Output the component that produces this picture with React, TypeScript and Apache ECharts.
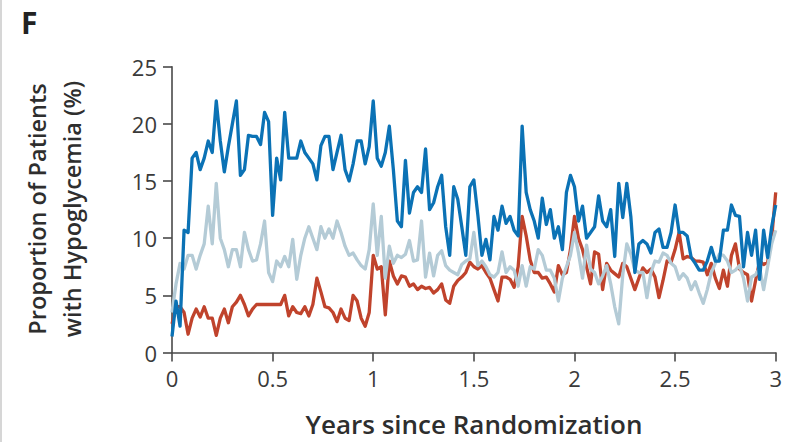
import React, { useEffect, useRef } from "react";
import * as echarts from "echarts";

// x positions: weekly-ish sampling, 0.02 years apart (0 .. 3 years)
const STEP = 0.02;
const N_POINTS = 151;
const years: number[] = Array.from({ length: N_POINTS }, (_, i) => Math.round(i * STEP * 100) / 100);

const xTicks = [0, 0.5, 1, 1.5, 2, 2.5, 3];
const yTicks = [0, 5, 10, 15, 20, 25];

// Dark blue series (%)
const blueValues = [
  1.4, 4.5, 2.3, 10.7, 10.5, 17, 17.5, 16, 17, 18.5,
  17.5, 22, 18.5, 15.8, 18, 20, 22, 15.5, 16, 19,
  18.9, 18.9, 18.2, 21, 20.2, 12, 17, 15.1, 21, 17,
  17, 17, 18.5, 17.5, 17, 16.5, 15.1, 18.1, 18.9, 18.9,
  16, 17.5, 19, 16, 15, 16.5, 18.5, 18.5, 16.5, 18,
  22, 17, 16.3, 17.5, 19.8, 16, 11.5, 11, 16.8, 12.2,
  14, 14.5, 14, 17.8, 12.5, 13.1, 14.5, 15.5, 11, 8.5,
  14.5, 13.4, 11, 8.5, 14.5, 15.1, 12, 8.5, 9.9, 8.1,
  11.9, 10.7, 12.8, 11.3, 11.9, 10.7, 10.2, 19.8, 14, 12.5,
  11.5, 10, 13.5, 11.2, 12.5, 10, 11, 9, 14, 15.5,
  14.5, 11.5, 12.8, 10, 10.5, 11, 13.7, 11.5, 11, 12.5,
  8.4, 14.8, 11.8, 14.8, 11.9, 7, 9.5, 9.8, 9.5, 8.7,
  10.5, 10.8, 9.2, 9.2, 10.5, 12.9, 10.5, 10.5, 10.2, 8.3,
  7.8, 7.2, 7.2, 8, 9.2, 8, 8, 10.7, 10.7, 12.9,
  12, 11.9, 7.5, 10.5, 8.5, 10.7, 6.4, 10.7, 8.3, 11,
  12.9,
];

// Light grey-blue series (%)
const lightValues = [
  3.5, 6, 7.8, 7.3, 8.5, 8.5, 7.3, 8.5, 9.5, 12.8,
  9.5, 14.8, 10, 9, 7.5, 9, 9, 7.5, 10.5, 9,
  8, 8.1, 9.5, 11.5, 7, 6.2, 8, 7.5, 8.4, 7.5,
  9.9, 6.4, 8.5, 10, 11, 10, 9, 11, 10, 10.8,
  10, 11.5, 10.5, 9.3, 8.5, 8.7, 8.1, 7.6, 7.3, 9,
  13, 8.5, 11.9, 6.5, 9.3, 7.8, 8.5, 8.3, 8.6, 9.8,
  8, 8.1, 11.5, 6.6, 8.7, 6.7, 8.5, 8.9, 7.6, 7.2,
  7, 6.8, 7.7, 8, 8.2, 10.5, 7.6, 8, 7.5, 6.8,
  6.6, 7, 8.8, 7, 7.5, 7.2, 5.8, 7.6, 5.8, 7.5,
  7.3, 9, 8.5, 7.2, 7.2, 6.5, 4.5, 6.5, 7.5, 8.5,
  10.5, 8.7, 6.5, 9.4, 7.3, 7, 6, 6.7, 7.6, 6,
  4, 2.5, 6.8, 9.5, 8.6, 7.2, 7, 7, 4.8, 7,
  8, 7.9, 8.7, 8.5, 7.8, 7.5, 6.4, 6.9, 6.5, 5.5,
  6.2, 5.2, 4.3, 5.5, 7, 7.8, 8.6, 8.5, 8, 7,
  7.2, 7.6, 6.5, 4.5, 6.6, 6.8, 7.4, 5.5, 7.5, 9.5,
  10.7,
];

// Red series (%)
const redValues = [
  2.5, 4, 4, 3.5, 1.6, 3, 3.8, 3.1, 4, 3,
  3, 1.5, 3, 3.8, 2.6, 4, 4.4, 5, 4.2, 3.2,
  3.8, 4.2, 4.2, 4.2, 4.2, 4.2, 4.2, 4.2, 5, 3.2,
  4, 3.5, 3.4, 4, 3.2, 4.2, 6.5, 5.3, 4, 3.9,
  3.5, 2.7, 3.8, 3, 2.8, 5, 4.5, 3, 2.3, 3.5,
  8.5, 7.3, 7.5, 3.3, 8, 6.7, 6, 6.7, 6.6, 5.8,
  6, 5.5, 5.8, 5.6, 5.7, 5.2, 5.5, 6, 4.6, 4.3,
  5.8, 6.3, 6.6, 7, 7.9, 7.5, 7.3, 7.6, 7, 6.5,
  5.5, 4.5, 6.6, 6.6, 6.4, 5.7, 7.5, 11.9, 10.2, 8.1,
  7, 7, 6.5, 6.6, 6, 5.3, 7.6, 6.8, 7, 9,
  11.9, 10, 9, 7.5, 6, 8.8, 8.6, 5.5, 7.8, 7.2,
  6.9, 6.6, 7.8, 7.5, 6.5, 5.5, 6.5, 7.4, 7, 7.3,
  6.6, 4.8, 6.3, 8, 7.9, 9, 10.5, 8.2, 8.4, 8.3,
  8, 8, 7.9, 6.8, 7.8, 6.5, 5.6, 7.2, 5.8, 8.5,
  9.5, 7.3, 7, 6.8, 4.5, 6.3, 8, 7.7, 7.9, 10,
  14,
];

const panelLabel = "F";
const yTitleLines = ["Proportion of Patients", "with Hypoglycemia (%)"];
const xTitle = "Years since Randomization";

const FONT = "'Open Sans', 'DejaVu Sans', sans-serif";
const AXIS_COLOR = "#4a4a4a";
const TEXT_COLOR = "#3a3a3a";

const toPairs = (vals: number[]) => years.map((x, i) => [x, vals[i]]);

export default function App() {
  const ref = useRef<HTMLDivElement | null>(null);

  useEffect(() => {
    if (!ref.current) return;
    const chart = echarts.init(ref.current, undefined, { renderer: "svg" });
    const lineSeries = (name: string, vals: number[], color: string) => ({
      name,
      type: "line",
      data: toPairs(vals),
      showSymbol: false,
      symbol: "none",
      lineStyle: { color, width: 3.3, join: "round" },
      itemStyle: { color },
    });
    chart.setOption({
      animation: false,
      backgroundColor: "#ffffff",
      grid: { left: 172, right: 8, top: 66.7, bottom: 89.5, containLabel: false },
      xAxis: {
        type: "value",
        min: xTicks[0],
        max: xTicks[xTicks.length - 1],
        interval: 0.5,
        axisLine: { show: true, lineStyle: { color: AXIS_COLOR, width: 1.6 } },
        axisTick: { show: true, length: 9, lineStyle: { color: AXIS_COLOR, width: 1.6 } },
        axisLabel: { margin: 14, fontSize: 22, color: TEXT_COLOR, fontFamily: FONT },
        splitLine: { show: false },
      },
      yAxis: {
        type: "value",
        min: yTicks[0],
        max: yTicks[yTicks.length - 1],
        interval: 5,
        axisLine: { show: true, lineStyle: { color: AXIS_COLOR, width: 1.6 } },
        axisTick: { show: true, length: 9, lineStyle: { color: AXIS_COLOR, width: 1.6 } },
        axisLabel: { margin: 15, fontSize: 22, color: TEXT_COLOR, fontFamily: FONT },
        splitLine: { show: false },
      },
      series: [
        lineSeries("Red", redValues, "#c0432c"),
        lineSeries("Light", lightValues, "#b4cbd6"),
        lineSeries("Blue", blueValues, "#0b72b5"),
      ],
      graphic: [
        { type: "rect", left: 0, top: 0, shape: { x: 0, y: 0, width: 2, height: 442 }, style: { fill: "#d6d6d6" } },
        {
          type: "text",
          x: 21,
          y: 22,
          style: { text: panelLabel, font: `bold 30px ${FONT}`, fill: "#222", textAlign: "left", textVerticalAlign: "middle" },
        },
        {
          type: "text",
          x: 37,
          y: 209,
          rotation: Math.PI / 2,
          style: { text: yTitleLines[0], font: `600 23.5px ${FONT}`, fill: "#2e2e2e", textAlign: "center", textVerticalAlign: "middle" },
        },
        {
          type: "text",
          x: 72,
          y: 209,
          rotation: Math.PI / 2,
          style: { text: yTitleLines[1], font: `600 23.5px ${FONT}`, fill: "#2e2e2e", textAlign: "center", textVerticalAlign: "middle" },
        },
        {
          type: "text",
          x: 474,
          y: 424,
          style: { text: xTitle, font: `600 26px ${FONT}`, fill: "#2e2e2e", textAlign: "center", textVerticalAlign: "middle" },
        },
      ],
    });
    return () => chart.dispose();
  }, []);

  return (
    <div
      ref={ref}
      style={{ position: "fixed", left: 0, top: 0, width: 785, height: 442, background: "#fff" }}
    />
  );
}
